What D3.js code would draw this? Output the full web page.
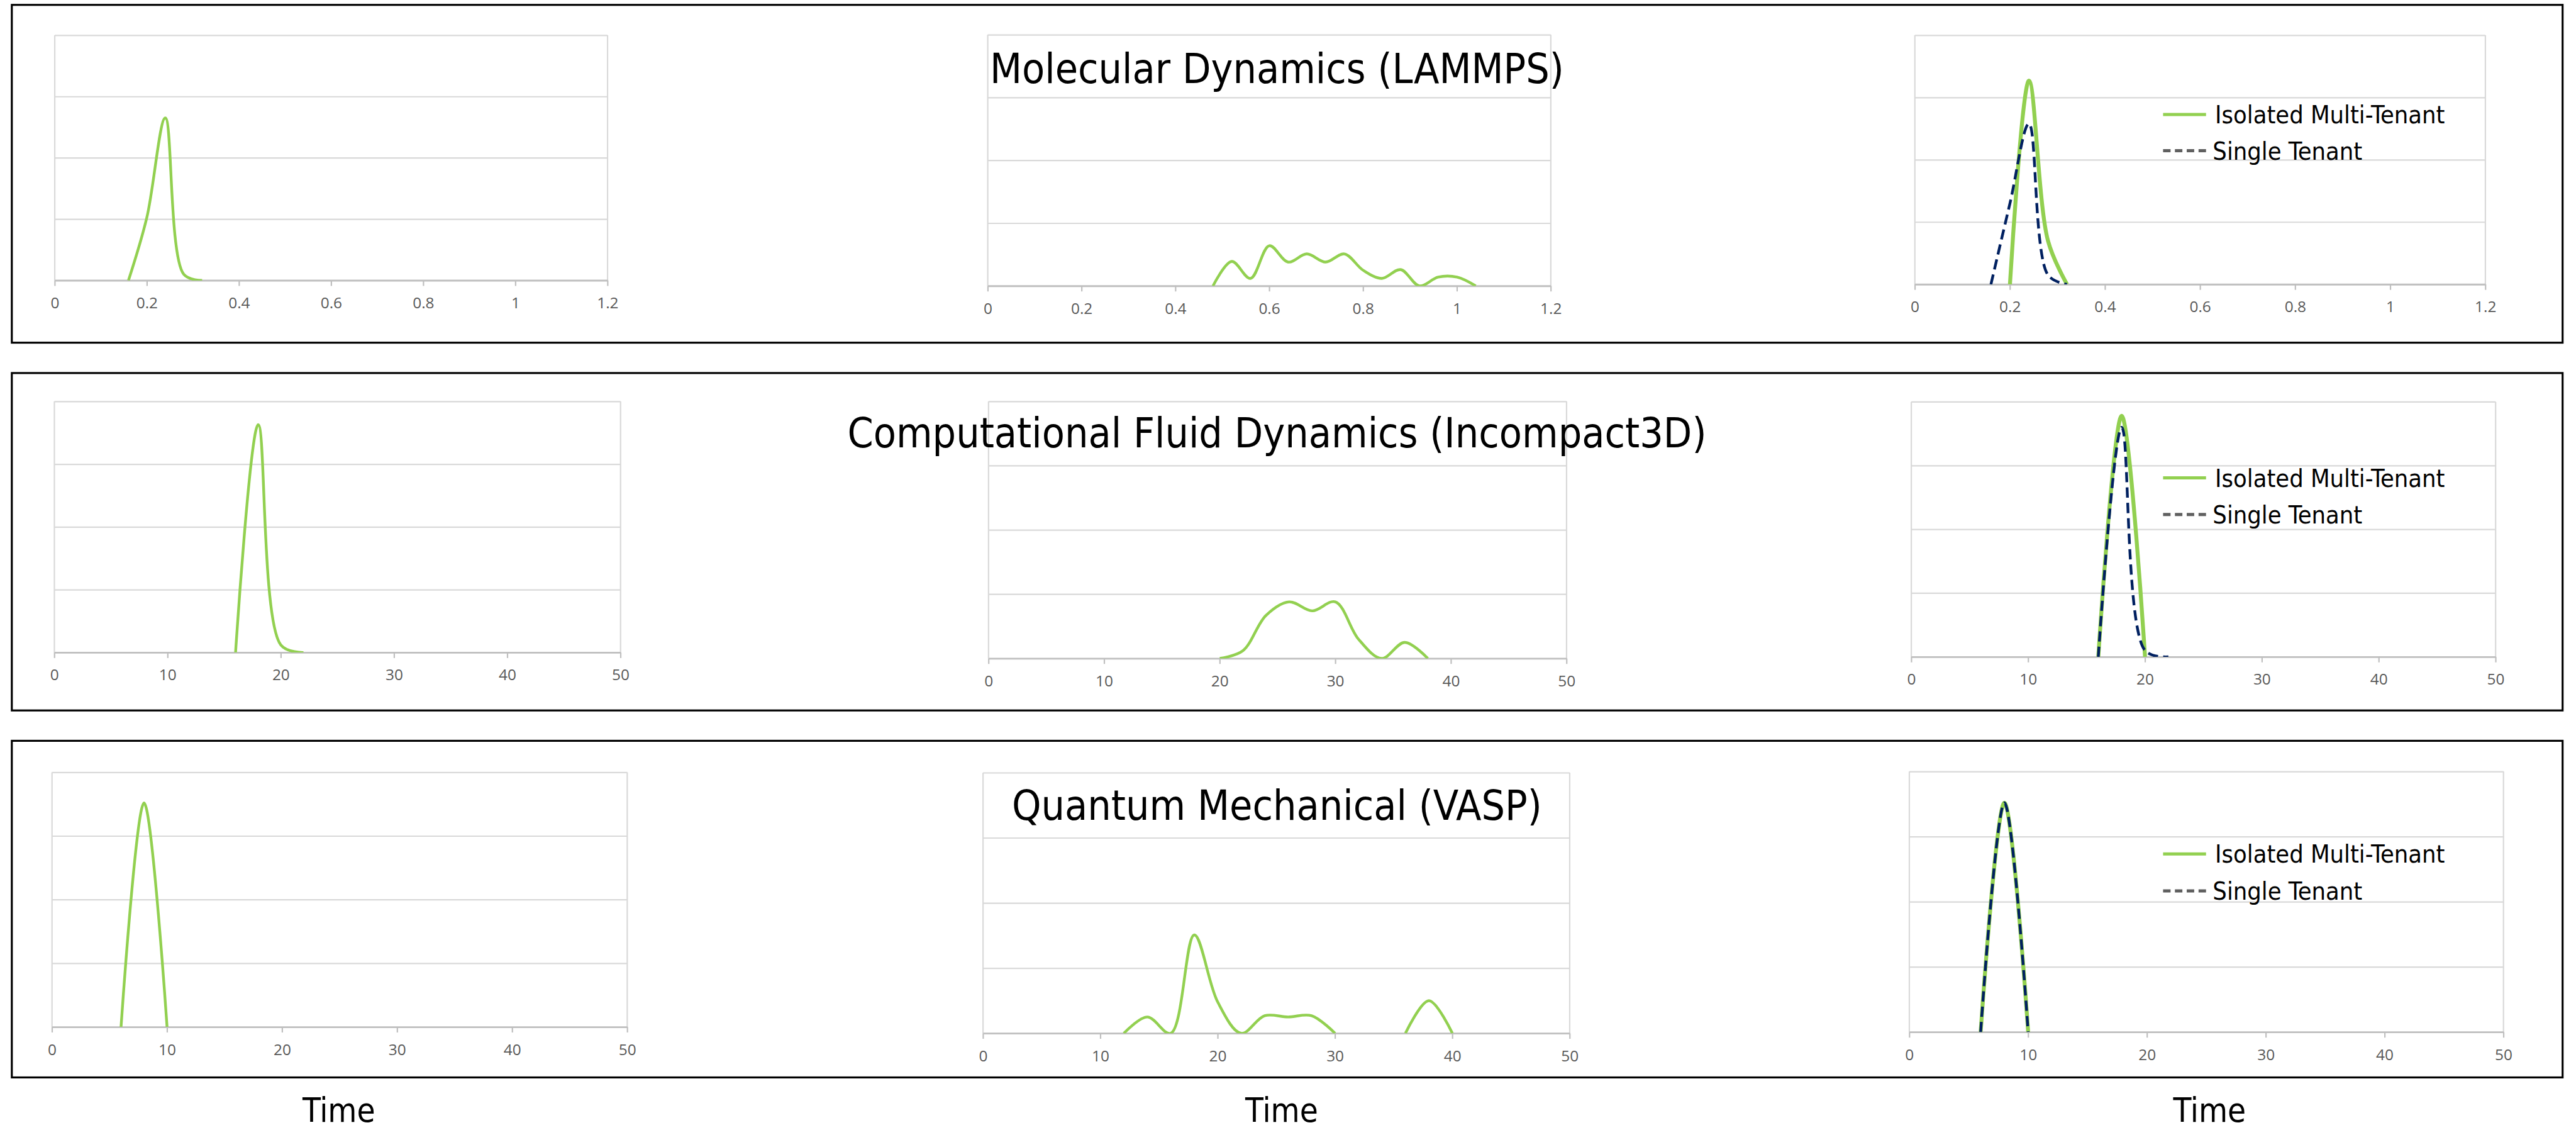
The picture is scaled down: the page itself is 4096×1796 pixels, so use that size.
<!DOCTYPE html>
<html>
<head>
<meta charset="utf-8">
<script src="https://cdn.jsdelivr.net/npm/d3@7"></script>
<style>
  body { margin: 0; background: #fff; }
  svg { display: block; }
</style>
</head>
<body>
<script>
// Page size, and size of the reference that the positions were read from
var w = 4096;
var h = 1796;
var refW = 6538;
var refH = 2866;

// Tick labels
var fracTicks = [0, 0.2, 0.4, 0.6, 0.8, 1, 1.2];
var runTicks = [0, 10, 20, 30, 40, 50];
var gridTicks = [1, 2, 3, 4];

// Texts
var titles = ["Molecular Dynamics (LAMMPS)",
              "Computational Fluid Dynamics (Incompact3D)",
              "Quantum Mechanical (VASP)"];
var legendLabels = ["Isolated Multi-Tenant", "Single Tenant"];
var axisLabel = "Time";

// Molecular Dynamics (LAMMPS), bins of 0.04
var mdLeftX   = [0.16, 0.20, 0.24, 0.28, 0.32];
var mdLeftY   = [0, 1.03, 2.65, 0.10, 0];
var mdMidX    = [0.48, 0.52, 0.56, 0.60, 0.64, 0.68, 0.72, 0.76, 0.80, 0.84, 0.88, 0.92, 0.96, 1.00, 1.04];
var mdMidY    = [0, 0.39, 0.12, 0.64, 0.38, 0.51, 0.38, 0.51, 0.25, 0.12, 0.26, 0, 0.14, 0.14, 0];
var mdIsoX    = [0.20, 0.24, 0.28, 0.32];
var mdIsoY    = [0, 3.27, 0.70, 0];
var mdSingleX = [0.16, 0.20, 0.24, 0.28, 0.32];
var mdSingleY = [0, 1.30, 2.58, 0.15, 0];

// Computational Fluid Dynamics (Incompact3D), bins of 2
var cfdLeftX   = [16, 18, 20, 22];
var cfdLeftY   = [0, 3.63, 0.12, 0];
var cfdMidX    = [20, 22, 24, 26, 28, 30, 32, 34, 36, 38];
var cfdMidY    = [0, 0.12, 0.67, 0.88, 0.74, 0.88, 0.30, 0, 0.25, 0];
var cfdIsoX    = [16, 18, 20];
var cfdIsoY    = [0, 3.78, 0];
var cfdSingleX = [16, 18, 20, 22];
var cfdSingleY = [0, 3.60, 0.10, 0];

// Quantum Mechanical (VASP), bins of 2 (null = no value)
var vaspLeftX   = [6, 8, 10];
var vaspLeftY   = [0, 3.52, 0];
var vaspMidX    = [12, 14, 16, 18, 20, 22, 24, 26, 28, 30, 32, 34, 36, 38, 40];
var vaspMidY    = [0, 0.25, 0, 1.51, 0.48, 0, 0.27, 0.25, 0.27, 0, null, null, 0, 0.50, 0];
var vaspIsoX    = [6, 8, 10];
var vaspIsoY    = [0, 3.52, 0];
var vaspSingleX = [6, 8, 10];
var vaspSingleY = [0, 3.52, 0];

function pairs(xs, ys) {
  return xs.map(function(x, i) { return [x, ys[i]]; });
}

var green = "#92d050";
var navy = "#002060";

// Rows: title, x range, and series per panel (left, middle, right)
var rows = [
  { title: titles[0], xMax: 1.2, ticks: fracTicks,
    panels: [[pairs(mdLeftX, mdLeftY)], [pairs(mdMidX, mdMidY)],
             [pairs(mdIsoX, mdIsoY), pairs(mdSingleX, mdSingleY)]] },
  { title: titles[1], xMax: 50, ticks: runTicks,
    panels: [[pairs(cfdLeftX, cfdLeftY)], [pairs(cfdMidX, cfdMidY)],
             [pairs(cfdIsoX, cfdIsoY), pairs(cfdSingleX, cfdSingleY)]] },
  { title: titles[2], xMax: 50, ticks: runTicks,
    panels: [[pairs(vaspLeftX, vaspLeftY)], [pairs(vaspMidX, vaspMidY)],
             [pairs(vaspIsoX, vaspIsoY), pairs(vaspSingleX, vaspSingleY)]] }
];

// Layout, in reference pixels
var boxLeft = 30, boxRight = 6504;
var boxes = [[12, 869], [946, 1802], [1879, 2733]];
var titleX = 3241;
var titleY = [210, 1135, 2080];
var legendY = [[290, 382], [1212, 1305], [2166, 2260]];
var timeX = [860, 3253, 5608];
var timeY = 2845;
// x0, x1, top, axis of every plot area
var plots = [
  [[139, 1542, 89, 711], [2507, 3936, 88, 725], [4860, 6308, 89, 721]],
  [[138, 1575, 1018, 1655], [2509, 3976, 1018, 1670], [4851, 6334, 1019, 1666]],
  [[132, 1592, 1959, 2605], [2495, 3984, 1960, 2621], [4846, 6354, 1957, 2618]]
];

var titleFont = '"DejaVu Sans Condensed", "DejaVu Sans", sans-serif';
var tickFont = '"Open Sans", sans-serif';

// Create SVG element
var svg = d3.select("body")
            .append("svg")
            .attr("width", w)
            .attr("height", h)
            .attr("viewBox", "0 0 " + refW + " " + refH);

svg.append("rect")
  .attr("width", refW)
  .attr("height", refH)
  .attr("fill", "#fff");

var defs = svg.append("defs");

rows.forEach(function(row, r) {
  // Row frame
  svg.append("rect")
    .attr("x", boxLeft)
    .attr("y", boxes[r][0])
    .attr("width", boxRight - boxLeft)
    .attr("height", boxes[r][1] - boxes[r][0])
    .attr("fill", "none")
    .attr("stroke", "#000")
    .attr("stroke-width", 5);

  row.panels.forEach(function(series, c) {
    var p = plots[r][c];
    var g = svg.append("g");

    var xScale = d3.scaleLinear()
                  .domain([0, row.xMax])
                  .range([p[0], p[1]]);
    var yScale = d3.scaleLinear()
                  .domain([0, 4])
                  .range([p[3], p[2]]);

    // Gridlines
    g.append("g")
      .attr("transform", "translate(" + p[0] + ",0)")
      .call(d3.axisLeft(yScale)
              .tickValues(gridTicks)
              .tickSize(-(p[1] - p[0]))
              .tickFormat(""))
      .call(function(s) { s.select(".domain").remove(); })
      .selectAll("line")
      .attr("stroke", "#d9d9d9")
      .attr("stroke-width", 3.5);

    // Plot area sides
    g.selectAll("line.side")
      .data([p[0], p[1]])
      .enter()
      .append("line")
      .attr("class", "side")
      .attr("x1", function(d) { return d; })
      .attr("x2", function(d) { return d; })
      .attr("y1", p[2])
      .attr("y2", p[3])
      .attr("stroke", "#d9d9d9")
      .attr("stroke-width", 3.5);

    // X axis
    var ax = g.append("g")
      .attr("transform", "translate(0," + p[3] + ")")
      .call(d3.axisBottom(xScale)
              .tickValues(row.ticks)
              .tickSizeInner(14)
              .tickSizeOuter(0)
              .tickPadding(29)
              .tickFormat(function(d) { return String(d); }));
    ax.select(".domain")
      .attr("stroke", "#bfbfbf")
      .attr("stroke-width", 4.5);
    ax.selectAll(".tick line")
      .attr("stroke", "#bfbfbf")
      .attr("stroke-width", 3.5);
    ax.selectAll(".tick text")
      .attr("fill", "#595959")
      .attr("font-family", tickFont)
      .attr("font-size", 39);

    // Clip to the plot area (values below zero are cut off)
    var clipId = "clip-" + r + "-" + c;
    defs.append("clipPath")
      .attr("id", clipId)
      .append("rect")
      .attr("x", p[0] - 10)
      .attr("y", p[2] - 40)
      .attr("width", p[1] - p[0] + 20)
      .attr("height", p[3] - p[2] + 40);

    var line = d3.line()
      .defined(function(d) { return d[1] !== null; })
      .x(function(d) { return xScale(d[0]); })
      .y(function(d) { return yScale(d[1]); })
      .curve(d3.curveCatmullRom.alpha(0.5));

    var lines = g.append("g").attr("clip-path", "url(#" + clipId + ")");

    series.forEach(function(s, i) {
      var path = lines.append("path")
        .datum(s)
        .attr("d", line)
        .attr("fill", "none")
        .attr("stroke-linejoin", "round");
      if (i === 0) {
        path.attr("stroke", green)
            .attr("stroke-width", c === 2 ? 10 : 7);
      } else {
        path.attr("stroke", navy)
            .attr("stroke-width", 7)
            .attr("stroke-dasharray", "26,13");
      }
    });

    // Legend in the right panel
    if (c === 2) {
      var lg = g.append("g");
      lg.append("line")
        .attr("x1", 5490).attr("x2", 5599)
        .attr("y1", legendY[r][0]).attr("y2", legendY[r][0])
        .attr("stroke", green)
        .attr("stroke-width", 8);
      lg.append("line")
        .attr("x1", 5490).attr("x2", 5599)
        .attr("y1", legendY[r][1]).attr("y2", legendY[r][1])
        .attr("stroke", "#606060")
        .attr("stroke-width", 8)
        .attr("stroke-dasharray", "19,11");
      lg.selectAll("text")
        .data(legendLabels)
        .enter()
        .append("text")
        .text(function(d) { return d; })
        .attr("x", function(d, i) { return i === 0 ? 5622 : 5616; })
        .attr("y", function(d, i) { return legendY[r][i]; })
        .attr("dy", "0.36em")
        .attr("font-family", titleFont)
        .attr("font-size", 63)
        .attr("fill", "#000");
    }
  });

  // Row title
  svg.append("text")
    .text(row.title)
    .attr("x", titleX)
    .attr("y", titleY[r])
    .attr("text-anchor", "middle")
    .attr("font-family", titleFont)
    .attr("font-size", 105)
    .attr("fill", "#000");
});

// "Time" under each column
svg.selectAll("text.time")
  .data(timeX)
  .enter()
  .append("text")
  .attr("class", "time")
  .text(axisLabel)
  .attr("x", function(d) { return d; })
  .attr("y", timeY)
  .attr("text-anchor", "middle")
  .attr("font-family", titleFont)
  .attr("font-size", 84)
  .attr("fill", "#000");
</script>
</body>
</html>
